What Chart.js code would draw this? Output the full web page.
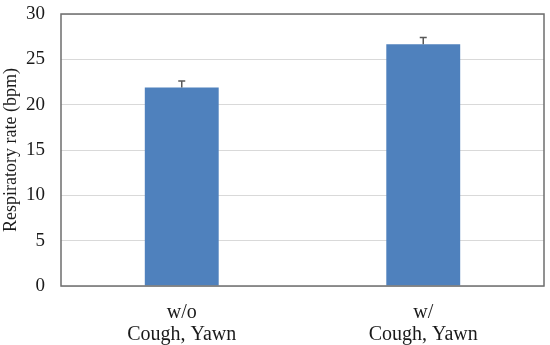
<!DOCTYPE html>
<html>
<head>
<meta charset="utf-8">
<script src="https://cdn.jsdelivr.net/npm/chart.js@4/dist/chart.umd.min.js"></script>
<style>
html,body{margin:0;padding:0;background:#fff;}
#wrap{width:550px;height:345px;position:relative;}
</style>
</head>
<body>
<div id="wrap"><canvas id="c" width="550" height="345"></canvas></div>
<script>
const categories = [["w/o", "Cough, Yawn"], ["w/", "Cough, Yawn"]];
const rateValues = [21.9, 26.65];
const rateErrors = [0.7, 0.75];
const yTicks = [0, 5, 10, 15, 20, 25, 30];

const FONT = "'Liberation Serif', 'Times New Roman', serif";

const errorBarPlugin = {
  id: 'errorBars',
  afterDatasetsDraw(chart) {
    const ctx = chart.ctx;
    const meta = chart.getDatasetMeta(0);
    const yScale = chart.scales.y;
    ctx.save();
    ctx.strokeStyle = '#595959';
    ctx.lineWidth = 1.5;
    meta.data.forEach((bar, i) => {
      const x = bar.x;
      const yTop = yScale.getPixelForValue(rateValues[i] + rateErrors[i]);
      const yVal = yScale.getPixelForValue(rateValues[i]);
      ctx.beginPath();
      ctx.moveTo(x, yVal);
      ctx.lineTo(x, yTop);
      ctx.moveTo(x - 3.5, yTop);
      ctx.lineTo(x + 3.5, yTop);
      ctx.stroke();
    });
    ctx.restore();
  }
};

const framePlugin = {
  id: 'frame',
  afterDraw(chart) {
    const a = chart.chartArea;
    const ctx = chart.ctx;
    ctx.save();
    ctx.strokeStyle = '#6e6e6e';
    ctx.lineWidth = 1.5;
    ctx.strokeRect(a.left, a.top, a.right - a.left, a.bottom - a.top);
    ctx.restore();
  }
};

new Chart(document.getElementById('c'), {
  type: 'bar',
  data: {
    labels: categories,
    datasets: [{
      data: rateValues,
      backgroundColor: '#4f81bd',
      borderWidth: 0,
      categoryPercentage: 1.0,
      barPercentage: 0.306
    }]
  },
  options: {
    responsive: false,
    animation: false,
    devicePixelRatio: 1,
    layout: { padding: { left: 0, top: 14, right: 6, bottom: 0 } },
    plugins: { legend: { display: false }, tooltip: { enabled: false } },
    scales: {
      x: {
        grid: { display: false, drawTicks: false },
        border: { display: false },
        ticks: {
          color: '#1a1a1a',
          font: { family: FONT, size: 20, lineHeight: 1.1 },
          padding: 16
        },
        afterFit(scale) { scale.height = 59; scale.paddingLeft = 0; scale.paddingRight = 0; }
      },
      y: {
        min: 0, max: 30,
        afterBuildTicks(scale) { scale.ticks = yTicks.map(v => ({ value: v })); },
        grid: { color: '#d9d9d9', lineWidth: 1, drawTicks: false },
        border: { display: false },
        ticks: {
          color: '#1a1a1a',
          font: { family: FONT, size: 19 },
          padding: 16
        },
        title: {
          display: true,
          text: 'Respiratory rate (bpm)',
          color: '#1a1a1a',
          font: { family: FONT, size: 18 },
          padding: { top: 0, bottom: 2 }
        },
        afterFit(scale) { scale.width = 61; scale.paddingTop = 0; scale.paddingBottom = 0; }
      }
    }
  },
  plugins: [errorBarPlugin, framePlugin]
});
</script>
</body>
</html>
